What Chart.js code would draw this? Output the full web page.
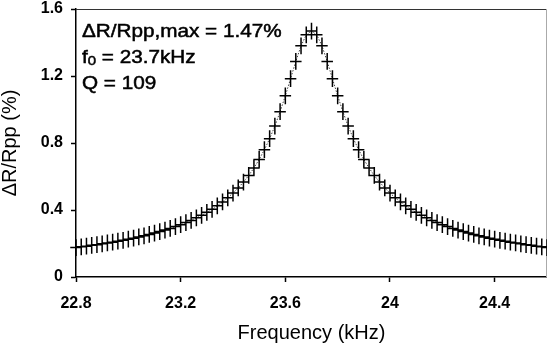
<!DOCTYPE html>
<html><head><meta charset="utf-8">
<script src="https://cdn.jsdelivr.net/npm/chart.js@4.4.0/dist/chart.umd.min.js"></script>
<style>html,body{margin:0;padding:0;background:#fff;}canvas{display:block;}</style>
</head><body>
<canvas id="c" width="547" height="351"></canvas>
<script>
const frequencies = [
  22.80,22.82,22.84,22.86,22.88,22.90,22.92,22.94,22.96,22.98,
  23.00,23.02,23.04,23.06,23.08,23.10,23.12,23.14,23.16,23.18,
  23.20,23.22,23.24,23.26,23.28,23.30,23.32,23.34,23.36,23.38,
  23.40,23.42,23.44,23.46,23.48,23.50,23.52,23.54,23.56,23.58,
  23.60,23.62,23.64,23.66,23.68,23.70,23.72,23.74,23.76,23.78,
  23.80,23.82,23.84,23.86,23.88,23.90,23.92,23.94,23.96,23.98,
  24.00,24.02,24.04,24.06,24.08,24.10,24.12,24.14,24.16,24.18,
  24.20,24.22,24.24,24.26,24.28,24.30,24.32,24.34,24.36,24.38,
  24.40,24.42,24.44,24.46,24.48,24.50,24.52,24.54,24.56,24.58,24.60
];
const ratioValues = [
  0.176,0.180,0.184,0.189,0.193,0.198,0.203,0.208,0.214,0.219,
  0.226,0.232,0.239,0.246,0.254,0.262,0.271,0.280,0.290,0.301,
  0.312,0.325,0.338,0.353,0.368,0.386,0.404,0.425,0.448,0.473,
  0.501,0.532,0.567,0.606,0.651,0.702,0.760,0.826,0.901,0.987,
  1.082,1.184,1.287,1.380,1.446,1.468,1.446,1.380,1.287,1.184,
  1.082,0.987,0.901,0.826,0.760,0.702,0.651,0.606,0.567,0.532,
  0.501,0.473,0.448,0.425,0.404,0.386,0.368,0.353,0.338,0.325,
  0.312,0.301,0.290,0.280,0.271,0.262,0.254,0.246,0.239,0.232,
  0.226,0.219,0.214,0.208,0.203,0.198,0.193,0.189,0.184,0.180,0.176
];
const freqError = 0.022;
const ratioError = 0.05;
const xTickValues = [22.8, 23.2, 23.6, 24.0, 24.4];
const xTickLabels = ['22.8', '23.2', '23.6', '24', '24.4'];
const yTickValues = [0, 0.4, 0.8, 1.2, 1.6];
const yTickLabels = ['0', '0.4', '0.8', '1.2', '1.6'];
const xTitle = 'Frequency (kHz)';
const yTitle = '\u0394R/Rpp (%)';
const noteLine1 = '\u0394R/Rpp,max = 1.47%';
const noteLine2a = 'f';
const noteLine2sub = '0';
const noteLine2b = ' = 23.7kHz';
const noteLine3 = 'Q = 109';

const FAMILY = "'Liberation Sans', Arial, Helvetica, sans-serif";
const points = frequencies.map((f, i) => ({x: f, y: ratioValues[i]}));

const framePlugin = {
  id: 'frame',
  beforeDatasetsDraw(chart) {
    const {ctx, chartArea: a} = chart;
    ctx.save();
    ctx.strokeStyle = '#333';
    ctx.lineWidth = 1.2;
    ctx.beginPath(); ctx.moveTo(a.left, a.top + 0.5); ctx.lineTo(a.right, a.top + 0.5); ctx.stroke();
    ctx.strokeStyle = '#aaa';
    ctx.lineWidth = 1;
    ctx.beginPath(); ctx.moveTo(a.right - 0.5, a.top); ctx.lineTo(a.right - 0.5, a.bottom); ctx.stroke();
    ctx.restore();
  }
};

const errorBarPlugin = {
  id: 'errorBars',
  afterDatasetsDraw(chart) {
    const {ctx, scales: {x, y}} = chart;
    ctx.save();
    ctx.strokeStyle = '#000';
    ctx.lineWidth = 1.5;
    ctx.beginPath();
    frequencies.forEach((f, i) => {
      const v = ratioValues[i];
      const px = x.getPixelForValue(f), py = y.getPixelForValue(v);
      ctx.moveTo(x.getPixelForValue(f - freqError), py);
      ctx.lineTo(x.getPixelForValue(f + freqError), py);
      ctx.moveTo(px, y.getPixelForValue(v - ratioError));
      ctx.lineTo(px, y.getPixelForValue(v + ratioError));
    });
    ctx.stroke();
    ctx.restore();
  }
};

const notePlugin = {
  id: 'note',
  afterDraw(chart) {
    const {ctx, chartArea: a} = chart;
    const sx = 1.15;
    const left = a.left + 6;
    ctx.save();
    ctx.fillStyle = '#000';
    ctx.strokeStyle = '#000';
    ctx.lineWidth = 0.5;
    ctx.textBaseline = 'alphabetic';
    ctx.textAlign = 'left';
    const put = (txt, x, yb, size) => {
      ctx.save();
      ctx.font = size + 'px ' + FAMILY;
      ctx.translate(x, yb);
      ctx.scale(sx, 1);
      ctx.fillText(txt, 0, 0);
      ctx.strokeText(txt, 0, 0);
      const w = ctx.measureText(txt).width * sx;
      ctx.restore();
      return w;
    };
    put(noteLine1, left, a.top + 28, 18);
    let cx = left;
    cx += put(noteLine2a, cx, a.top + 54, 18);
    cx += put(noteLine2sub, cx, a.top + 56, 13);
    put(noteLine2b, cx, a.top + 54, 18);
    put(noteLine3, left, a.top + 80, 18);
    ctx.restore();
  }
};

new Chart(document.getElementById('c'), {
  type: 'scatter',
  data: {
    datasets: [{
      type: 'line',
      data: points,
      borderColor: '#444',
      borderWidth: 1,
      borderDash: [1.5, 1.5],
      pointRadius: 0,
      fill: false,
      tension: 0
    }]
  },
  plugins: [framePlugin, errorBarPlugin, notePlugin],
  options: {
    responsive: false,
    animation: false,
    layout: {padding: {top: 9, right: 0, left: 0, bottom: 0}},
    plugins: {legend: {display: false}, tooltip: {enabled: false}},
    scales: {
      x: {
        type: 'linear', min: 22.8, max: 24.6,
        afterBuildTicks: s => { s.ticks = xTickValues.map(v => ({value: v})); },
        afterFit: s => { s.height = 74; s.paddingLeft = 0; s.paddingRight = 0; s.paddingTop = 0; s.paddingBottom = 0; },
        ticks: {
          callback: (v, i) => xTickLabels[i],
          autoSkip: false, maxRotation: 0, padding: 12,
          color: '#000', font: {family: FAMILY, size: 16, weight: 'bold'}
        },
        grid: {display: true, drawOnChartArea: false, drawTicks: true, tickLength: 5, tickColor: '#000', tickWidth: 1.5},
        border: {display: true, color: '#000', width: 1.5},
        title: {display: true, text: xTitle, color: '#000', font: {family: FAMILY, size: 20}, padding: {top: 0, bottom: 6}}
      },
      y: {
        type: 'linear', min: 0, max: 1.6,
        afterBuildTicks: s => { s.ticks = yTickValues.map(v => ({value: v})); },
        afterFit: s => { s.width = 76; s.paddingTop = 0; s.paddingBottom = 0; s.paddingLeft = 0; s.paddingRight = 0; },
        ticks: {
          callback: (v, i) => yTickLabels[i],
          autoSkip: false, padding: 8,
          color: '#000', font: {family: FAMILY, size: 16, weight: 'bold'}
        },
        grid: {display: true, drawOnChartArea: false, drawTicks: true, tickLength: 5, tickColor: '#000', tickWidth: 1.5},
        border: {display: true, color: '#000', width: 1.5},
        title: {display: true, text: yTitle, color: '#000', font: {family: FAMILY, size: 20, lineHeight: 1}, padding: {top: 0, bottom: 0}}
      }
    }
  }
});
</script>
</body></html>
